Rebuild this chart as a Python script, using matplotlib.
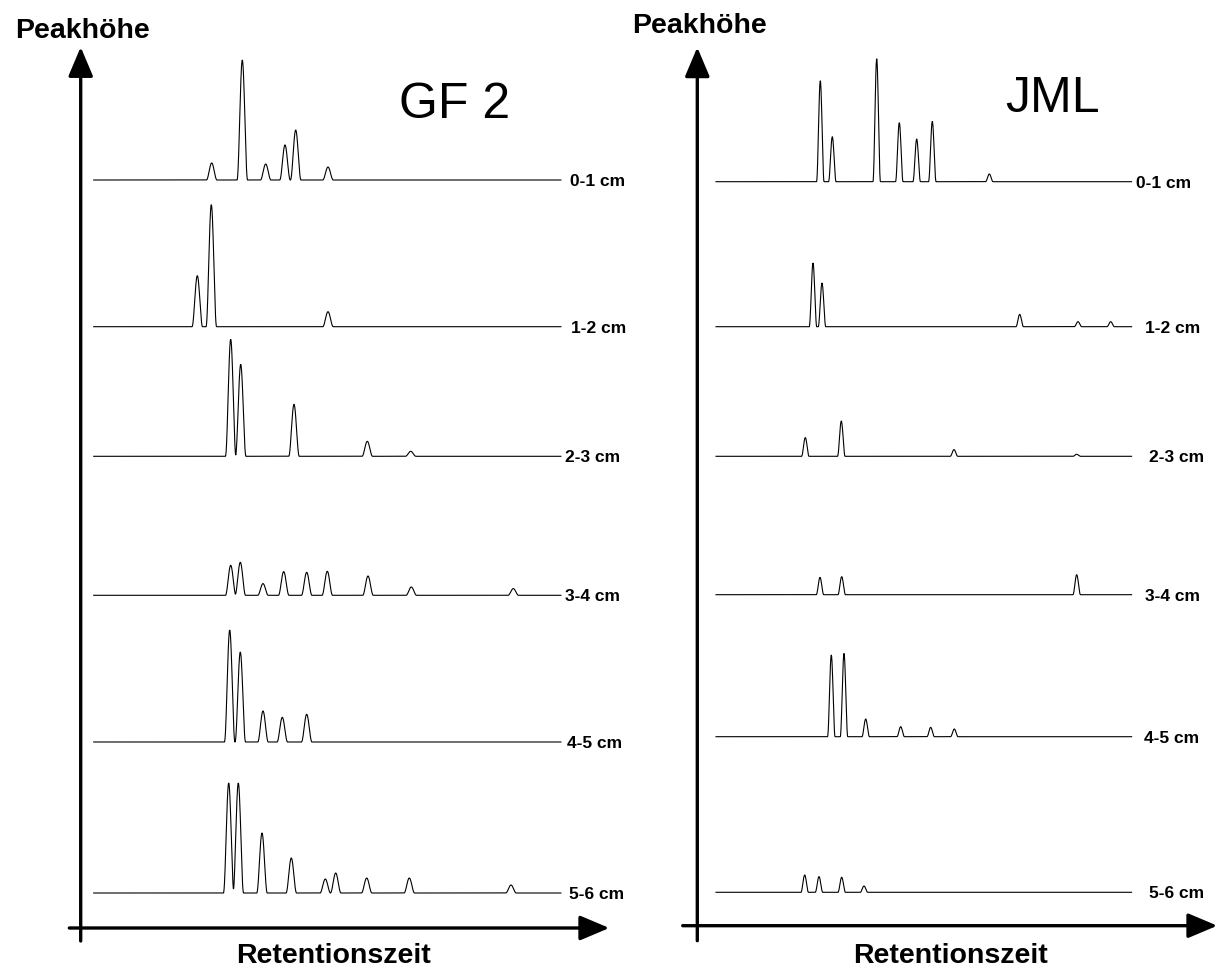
import numpy as np
import matplotlib
matplotlib.use("Agg")
import matplotlib.pyplot as plt

plt.rcParams['font.family'] = ['Liberation Sans', 'DejaVu Sans']

# ---------------- data (retention time in arbitrary units, peak heights) ----------------
sample_labels = ["0-1 cm", "1-2 cm", "2-3 cm", "3-4 cm", "4-5 cm", "5-6 cm"]

# GF 2
gf2_01_rt = [131, 161.6, 185, 204.3, 215, 247.3]
gf2_01_h = [17, 120, 16, 35, 50, 13]
gf2_12_rt = [116.6, 130.6, 247.3]
gf2_12_h = [51, 122, 15]
gf2_23_rt = [150, 160, 213.3, 286.6, 330]
gf2_23_h = [117, 92, 52, 15, 5]
gf2_34_rt = [150, 159.6, 182.3, 203, 226, 246.6, 287.3, 330.6, 432.6]
gf2_34_h = [30, 33, 11.7, 23.7, 23, 24, 19.3, 8.3, 6.7]
gf2_45_rt = [149, 159.6, 182.3, 201.6, 226]
gf2_45_h = [112, 90, 31, 24.7, 27.7]
gf2_56_rt = [148, 157.6, 181.3, 210.6, 244.6, 255, 286, 328.6, 430.3]
gf2_56_h = [110, 110, 60, 35, 14, 20, 15, 15, 8]

# JML
jml_01_rt = [123, 135, 179.4, 202, 219.4, 235, 292]
jml_01_h = [101, 45, 123, 59, 42.7, 60.3, 7.7]
jml_12_rt = [115.7, 124.7, 322.4, 380.7, 413.4]
jml_12_h = [63.7, 43.7, 12.3, 5, 5]
jml_23_rt = [108, 144, 256.7, 379.4]
jml_23_h = [18.7, 35.3, 6.7, 2]
jml_34_rt = [122.7, 144.4, 379.4]
jml_34_h = [17.3, 18, 20]
jml_45_rt = [134, 146.7, 168.4, 203.4, 233.4, 257]
jml_45_h = [81.7, 83.3, 17.7, 10, 9.3, 7.7]
jml_56_rt = [107.4, 121.7, 144.4, 166.7]
jml_56_h = [17.3, 15.7, 15, 6.3]

gf2_series = [(gf2_01_rt, gf2_01_h), (gf2_12_rt, gf2_12_h), (gf2_23_rt, gf2_23_h),
              (gf2_34_rt, gf2_34_h), (gf2_45_rt, gf2_45_h), (gf2_56_rt, gf2_56_h)]
jml_series = [(jml_01_rt, jml_01_h), (jml_12_rt, jml_12_h), (jml_23_rt, jml_23_h),
              (jml_34_rt, jml_34_h), (jml_45_rt, jml_45_h), (jml_56_rt, jml_56_h)]


def trace(x, rts, hs, w):
    y = np.zeros_like(x)
    for c, h in zip(rts, hs):
        u = (x - c) / w
        m = np.abs(u) < 0.5
        y[m] += h * np.cos(np.pi * u[m]) ** 2
    return y


W, H = 1218, 969
fig = plt.figure(figsize=(W / 100, H / 100), dpi=100)


def panel(rect, xlim, ylim, series, offsets, label_x, width, title, title_x, title_y,
          x_axis, y_axis, x_range, ylabel_y, xlabel_y):
    ax = fig.add_axes(rect)
    ax.set_xlim(*xlim)
    ax.set_ylim(*ylim)
    ax.axis('off')
    x = np.arange(x_range[0], x_range[1], 0.2)
    for (rts, hs), off, lx, lab in zip(series, offsets, label_x, sample_labels):
        ax.plot(x, off + trace(x, rts, hs, width), color='black', lw=0.8,
                solid_joinstyle='miter', clip_on=False)
        ax.text(lx, off - 1.5, lab, fontsize=12.5, fontweight='bold', ha='left', va='center')
    # axes with arrows
    arrow = dict(arrowstyle='-|>,head_length=0.9,head_width=0.38', lw=2.4, color='black',
                 mutation_scale=20, shrinkA=0, shrinkB=0)
    ax.annotate('', xy=(x_axis[1], 0), xytext=(x_axis[0], 0), arrowprops=arrow,
                annotation_clip=False)
    ax.annotate('', xy=(0, y_axis[1]), xytext=(0, y_axis[0]), arrowprops=arrow,
                annotation_clip=False)
    ax.text(title_x, title_y, title, fontsize=36, ha='left', va='baseline')
    ax.text(2, ylabel_y, "Peakhöhe", fontsize=20.5, fontweight='bold', ha='center', va='top')
    ax.text(np.mean([147.3, 358.3]), xlabel_y, "Retentionszeit", fontsize=20.5,
            fontweight='bold', ha='center', va='baseline')
    return ax


# left panel (origin of axes at pixel 80.7, 928)
panel([0, 0, 615 / W, 1], (-80.7, 615 - 80.7), (-41, 928), gf2_series,
      [748, 601.3, 471.7, 332.7, 186, 35],
      [489.3, 490.3, 484.3, 484.3, 486, 488.6], 10.5, "GF 2", 318.5, 809.7,
      (-11.4, 528.6), (-13, 881), (13, 480.3), 910, -35)

# right panel (origin of axes at pixel 697.3, 925.7)
panel([615 / W, 0, 603 / W, 1], (615 - 697.3, W - 697.3), (-43.3, 925.7), jml_series,
      [744, 599, 469.4, 331, 189, 33.4],
      [438.7, 447.7, 452, 447.7, 446.7, 452], 7.5, "JML", 308, 814,
      (-14.6, 520), (-15, 878.4), (18.7, 434.4), 912.7, -37.3)

fig.savefig("out.png", dpi=100)
